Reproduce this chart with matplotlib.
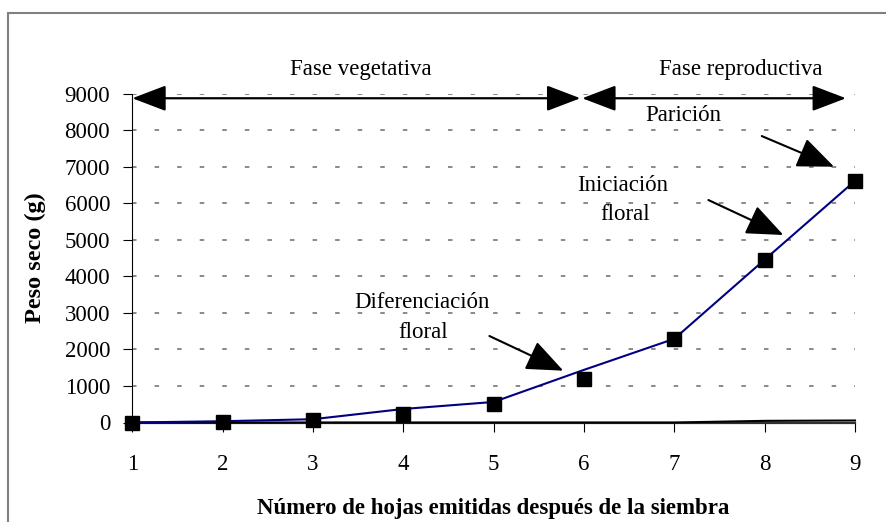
import matplotlib
matplotlib.use("Agg")
import matplotlib.pyplot as plt
from matplotlib.patches import Rectangle, FancyArrowPatch

plt.rcParams['font.family'] = ['Liberation Serif', 'DejaVu Serif']

# ---- data ----
hojas = [1, 2, 3, 4, 5, 6, 7, 8, 9]
peso_medido = [0, 25, 70, 235, 510, 1185, 2290, 4455, 6610]      # black squares
peso_ajustado = [0, 35, 90, 370, 562, 1440, 2290, 4455, 6610]    # blue line
peso_base = [0, 0, 0, 0, 0, 0, 0, 45, 55]                        # black line near zero
yticks = [0, 1000, 2000, 3000, 4000, 5000, 6000, 7000, 8000, 9000]

xlabel = "Número de hojas emitidas después de la siembra"
ylabel = "Peso seco (g)"

W, H = 886, 522
fig = plt.figure(figsize=(W / 100, H / 100), dpi=100)
fig.patch.set_facecolor('white')

x0, x1 = 132.3, 855.0
ytop, ybot = 93.5, 422.5
ax = fig.add_axes([x0 / W, 1 - ybot / H, (x1 - x0) / W, (ybot - ytop) / H])
ax.set_xlim(1, 9)
ax.set_ylim(0, 9000)

# outer frame
fig.patches.append(Rectangle((7.5 / W, -0.2), 1.5, 1.2 - 13 / H,
                             transform=fig.transFigure, fill=False,
                             edgecolor='#808080', lw=1.5))

for s in ['top', 'right']:
    ax.spines[s].set_visible(False)
ax.spines['left'].set_color('black')
ax.spines['left'].set_linewidth(0.8)
ax.spines['bottom'].set_color('#303030')
ax.spines['bottom'].set_linewidth(1.6)

ax.set_yticks(yticks)
ax.set_xticks(hojas)
ax.tick_params(axis='y', direction='out', length=6.5, width=0.8, pad=9.5, labelsize=16.5)
ax.tick_params(axis='x', direction='out', length=6.5, width=0.8, pad=16.5, labelsize=16.5)

ax.yaxis.grid(True, linestyle=(0, (2.5, 10)), color='#808080', lw=1.3)
ax.set_axisbelow(True)

ax.plot(hojas, peso_base, color='black', lw=1.5, zorder=3, clip_on=False)
ax.plot(hojas, peso_ajustado, color='#000080', lw=1.5, zorder=3, clip_on=False)
ax.plot(hojas, peso_medido, 's', color='black', ms=9.5, zorder=4, clip_on=False)

# top phase arrows
yarr = 8870
for a, b in [(1.0, 5.96), (5.98, 8.9)]:
    p = FancyArrowPatch((a, yarr), (b, yarr),
                        arrowstyle='<|-|>,head_length=21,head_width=8',
                        mutation_scale=1, color='black', lw=1.6,
                        shrinkA=0, shrinkB=0, clip_on=False, zorder=5)
    ax.add_patch(p)

fs = 16.5
ax.text(3.53, 9505, "Fase vegetativa", ha='center', va='baseline', fontsize=fs, clip_on=False)
ax.text(7.74, 9505, "Fase reproductiva", ha='center', va='baseline', fontsize=fs, clip_on=False)
ax.text(7.10, 8255, "Parición", ha='center', va='baseline', fontsize=fs)
ax.text(6.43, 6340, "Iniciación", ha='center', va='baseline', fontsize=fs)
ax.text(6.45, 5540, "floral", ha='center', va='baseline', fontsize=fs)
ax.text(4.21, 3124, "Diferenciación", ha='center', va='baseline', fontsize=fs)
ax.text(4.22, 2303, "floral", ha='center', va='baseline', fontsize=fs)

arrow_style = '-|>,head_length=23,head_width=9.5'
for start, tip in [((4.953, 2366), (5.771, 1417)),
                   ((7.377, 6086), (8.207, 5129)),
                   ((7.968, 7836), (8.768, 6997))]:
    ax.annotate('', xy=tip, xytext=start,
                arrowprops=dict(arrowstyle=arrow_style, mutation_scale=1,
                                color='black', lw=1.5, shrinkA=0, shrinkB=0))

fig.text(493 / W, 1 - 514 / H, xlabel, ha='center', va='baseline',
         fontsize=16.5, fontweight='bold')
fig.text(35 / W, 1 - 258 / H, ylabel, ha='center', va='center', rotation=90,
         fontsize=17.5, fontweight='bold')

fig.savefig('out.png', dpi=100, facecolor='white')
